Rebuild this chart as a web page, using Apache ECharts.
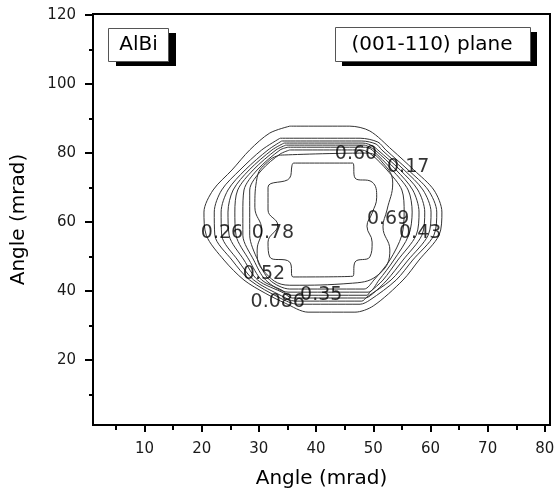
<!DOCTYPE html>
<html>
<head>
<meta charset="utf-8">
<script src="https://cdn.jsdelivr.net/npm/echarts@6/dist/echarts.min.js"></script>
<style>
html,body{margin:0;padding:0;background:#fff;}
#chart{width:555px;height:492px;}
</style>
</head>
<body>
<div id="chart"></div>
<script>
// ---- tick values ----
const xMajorTicks = [10, 20, 30, 40, 50, 60, 70, 80];
const xMinorTicks = [5, 15, 25, 35, 45, 55, 65, 75];
const yMajorTicks = [20, 40, 60, 80, 100, 120];
const yMinorTicks = [10, 30, 50, 70, 90, 110];

// ---- contour levels (outer to inner) ----
const levels = ['0.086', '0.17', '0.26', '0.35', '0.43', '0.52', '0.60', '0.69', '0.78'];

// ---- contour lines, [x, y] in mrad ----
const c0086 = [[35.4,87.8],[45.9,87.8],[49.4,86.4],[53.3,80.9],[57.1,75.1],[60.6,69.3],[62.0,62.9],[61.5,56.2],[58.0,49.0],[55.2,43.2],[50.0,35.7],[46.8,33.9],[38.6,33.9],[34.6,36.5],[31.1,39.4],[27.4,43.2],[23.9,49.0],[20.8,56.2],[20.4,62.9],[22.0,69.3],[25.3,75.1],[28.4,80.9],[31.9,85.8],[35.4,87.8]];
const c017 = [[33.7,84.3],[47.7,84.3],[50.8,83.2],[52.2,80.9],[56.1,75.1],[59.6,69.3],[61.1,62.9],[60.6,56.2],[56.9,49.0],[54.0,43.2],[49.4,37.4],[47.7,36.2],[36.8,36.2],[33.7,38.0],[28.4,43.2],[25.3,49.0],[22.3,56.2],[22.2,62.9],[23.5,69.3],[26.7,75.1],[30.5,80.9],[33.7,84.3]];
const c026 = [[34.0,83.5],[48.0,83.5],[50.5,82.6],[51.5,80.9],[55.4,75.1],[58.7,69.3],[60.1,62.9],[59.6,56.2],[56.1,49.0],[53.1,43.2],[48.9,38.3],[48.0,37.1],[36.3,37.1],[34.0,38.6],[29.1,43.2],[26.3,49.0],[23.5,56.2],[23.4,62.9],[24.6,69.3],[27.6,75.1],[31.6,80.9],[34.0,83.5]];
const c035 = [[34.4,82.9],[48.2,82.9],[50.0,82.0],[50.8,80.9],[54.7,75.1],[57.8,69.3],[59.0,62.9],[58.5,56.2],[55.2,49.0],[52.4,43.2],[49.8,39.1],[48.6,38.0],[35.8,38.0],[34.4,39.4],[29.8,43.2],[27.4,49.0],[24.8,56.2],[24.6,62.9],[25.5,69.3],[28.3,75.1],[32.3,80.9],[34.4,82.9]];
const c043 = [[34.7,82.3],[48.4,82.3],[49.4,81.7],[50.3,80.9],[54.0,75.1],[56.9,69.3],[58.0,62.9],[57.5,56.2],[54.3,49.0],[51.7,43.2],[49.4,39.7],[48.9,38.8],[35.4,38.8],[34.0,40.3],[30.5,43.2],[28.3,49.0],[26.0,56.2],[25.8,62.9],[26.3,69.3],[29.0,75.1],[33.0,80.9],[34.7,82.3]];
const c052 = [[35.1,81.7],[48.6,81.7],[49.8,80.9],[53.3,75.1],[56.1,69.3],[56.8,62.9],[56.2,56.2],[53.6,49.0],[51.0,43.2],[49.1,39.7],[35.1,39.7],[31.2,43.2],[29.1,49.0],[27.2,56.2],[27.2,62.9],[27.4,69.3],[29.7,75.1],[33.7,80.9],[35.1,81.7]];
const c060 = [[35.4,80.9],[48.0,80.9],[49.8,79.4],[52.4,75.1],[55.0,69.3],[55.4,62.9],[55.0,56.2],[52.9,49.0],[50.1,43.2],[48.4,40.6],[35.4,40.6],[31.9,43.2],[29.8,49.0],[28.4,56.2],[28.4,62.9],[28.4,69.3],[30.5,75.1],[33.7,79.7],[35.4,80.9]];
const c069 = [[33.7,79.4],[48.9,80.0],[51.7,77.1],[53.4,71.3],[52.4,63.5],[51.7,58.6],[52.9,51.9],[51.2,45.2],[46.4,42.3],[35.4,41.7],[30.7,46.1],[29.7,51.9],[30.5,57.7],[29.3,64.3],[29.7,73.0],[31.9,78.0],[33.7,79.4]];
const c078 = [[36.0,77.1],[46.4,77.1],[46.8,72.8],[49.8,71.6],[50.6,67.2],[49.8,62.6],[48.9,58.8],[49.8,54.2],[49.4,49.9],[46.8,48.4],[46.4,44.3],[36.0,44.1],[35.4,48.4],[31.9,49.9],[31.6,54.2],[33.3,59.1],[31.6,63.5],[31.6,70.1],[35.4,72.8],[35.8,76.5],[36.0,77.1]];
const contours = [c0086, c017, c026, c035, c043, c052, c060, c069, c078];

// ---- contour label positions [x, y, text] ----
const contourLabels = [
  [23.55, 56.8, '0.26'],
  [32.46, 56.8, '0.78'],
  [46.98, 79.7, '0.60'],
  [56.1, 75.9, '0.17'],
  [52.6, 60.9, '0.69'],
  [58.2, 56.8, '0.43'],
  [30.9, 44.9, '0.52'],
  [40.9, 38.8, '0.35'],
  [33.3, 36.8, '0.086']
];

const FONT = '"DejaVu Sans", "Liberation Sans", Arial, sans-serif';
const X_MIN = 1, X_MAX = 80.9, Y_MIN = 1.2, Y_MAX = 120.3;

const chart = echarts.init(document.getElementById('chart'), null, {renderer: 'canvas'});

const series = contours.map((c, i) => ({
  name: levels[i],
  type: 'line',
  xAxisIndex: 0,
  yAxisIndex: 0,
  data: c,
  showSymbol: false,
  symbol: 'none',
  smooth: i >= 7 ? 0.45 : 0.3,
  lineStyle: {color: '#333', width: 1},
  silent: true,
  z: 2
}));

series.push({
  type: 'scatter',
  xAxisIndex: 0,
  yAxisIndex: 0,
  data: contourLabels,
  symbolSize: 0.1,
  itemStyle: {color: 'rgba(0,0,0,0)'},
  label: {
    show: true,
    position: 'inside',
    formatter: p => p.value[2],
    fontFamily: FONT,
    fontSize: 19,
    color: '#000',
    textBorderWidth: 0
  },
  silent: true,
  z: 5
});

const option = {
  animation: false,
  backgroundColor: '#fff',
  grid: {
    left: 93, right: 5, top: 14, bottom: 67,
    containLabel: false,
    outerBoundsMode: 'none',
    show: true,
    borderColor: '#000',
    borderWidth: 2,
    backgroundColor: 'transparent'
  },
  xAxis: [
    {
      type: 'value', min: X_MIN, max: X_MAX, position: 'bottom',
      name: 'Angle (mrad)', nameLocation: 'middle', nameGap: 44,
      nameTextStyle: {fontFamily: FONT, fontSize: 20, color: '#000'},
      axisLine: {show: true, onZero: false, lineStyle: {color: '#000', width: 2}},
      axisTick: {show: true, inside: false, length: 7, customValues: xMajorTicks, lineStyle: {color: '#000', width: 2}},
      axisLabel: {show: true, customValues: xMajorTicks, margin: 17, fontFamily: FONT, fontSize: 15, color: '#1a1a1a'},
      splitLine: {show: false}
    },
    {
      type: 'value', min: X_MIN, max: X_MAX, position: 'bottom', offset: 0,
      axisLine: {show: false},
      axisTick: {show: true, inside: false, length: 5, customValues: xMinorTicks, lineStyle: {color: '#000', width: 2}},
      axisLabel: {show: false},
      splitLine: {show: false}
    }
  ],
  yAxis: [
    {
      type: 'value', min: Y_MIN, max: Y_MAX, position: 'left',
      name: 'Angle (mrad)', nameLocation: 'middle', nameGap: 64, nameRotate: 90,
      nameTextStyle: {fontFamily: FONT, fontSize: 20, color: '#000'},
      axisLine: {show: true, onZero: false, lineStyle: {color: '#000', width: 2}},
      axisTick: {show: true, inside: false, length: 8, customValues: yMajorTicks, lineStyle: {color: '#000', width: 2}},
      axisLabel: {show: true, customValues: yMajorTicks, margin: 17, fontFamily: FONT, fontSize: 15, color: '#1a1a1a'},
      splitLine: {show: false}
    },
    {
      type: 'value', min: Y_MIN, max: Y_MAX, position: 'left', offset: 0,
      axisLine: {show: false},
      axisTick: {show: true, inside: false, length: 4, customValues: yMinorTicks, lineStyle: {color: '#000', width: 2}},
      axisLabel: {show: false},
      splitLine: {show: false}
    }
  ],
  graphic: [
    {type: 'rect', shape: {x: 116, y: 33, width: 60, height: 33}, style: {fill: '#000'}, z: 10},
    {type: 'rect', shape: {x: 108.5, y: 28.5, width: 60, height: 33}, style: {fill: '#fff', stroke: '#555', lineWidth: 1}, z: 11},
    {type: 'text', x: 138.5, y: 45, style: {text: 'AlBi', fontFamily: FONT, fontSize: 20, fill: '#000', align: 'center', verticalAlign: 'middle'}, z: 12},
    {type: 'rect', shape: {x: 342, y: 32, width: 195, height: 34}, style: {fill: '#000'}, z: 10},
    {type: 'rect', shape: {x: 335.5, y: 27.5, width: 195, height: 34}, style: {fill: '#fff', stroke: '#555', lineWidth: 1}, z: 11},
    {type: 'text', x: 432, y: 45, style: {text: '(001-110) plane', fontFamily: FONT, fontSize: 20, fill: '#000', align: 'center', verticalAlign: 'middle'}, z: 12}
  ],
  series: series
};

chart.setOption(option);
</script>
</body>
</html>
